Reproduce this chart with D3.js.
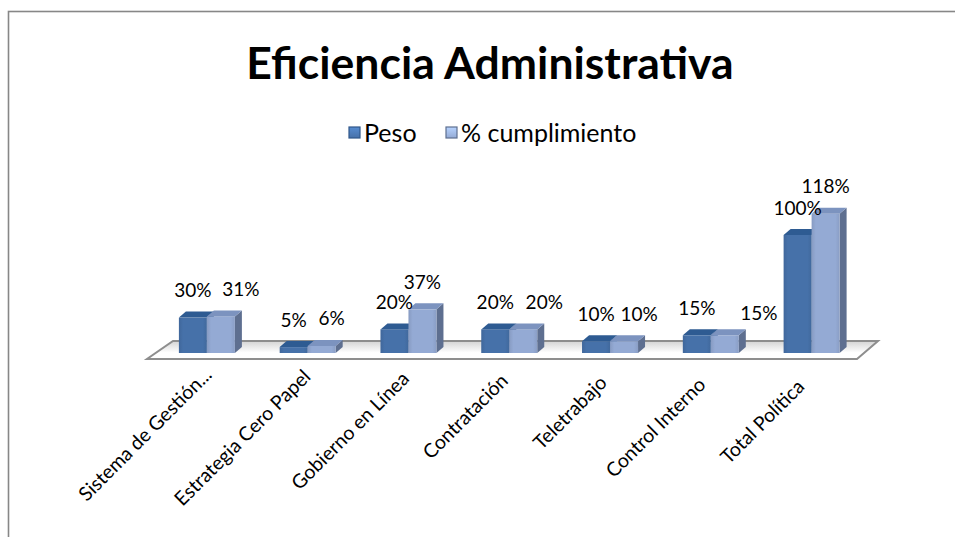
<!DOCTYPE html>
<html><head><meta charset="utf-8">
<script src="https://cdnjs.cloudflare.com/ajax/libs/d3/7.8.5/d3.min.js"></script>
<style>html,body{margin:0;padding:0;background:#fff;overflow:hidden}</style>
</head><body><svg id="c" width="955" height="537"></svg>
<script>
const title = "Eficiencia Administrativa";
const categories = ["Sistema de Gestión...", "Estrategia Cero Papel", "Gobierno en Línea", "Contratación", "Teletrabajo", "Control Interno", "Total Política"];
const seriesNames = ["Peso", "% cumplimiento"];
const peso = [0.30, 0.05, 0.20, 0.20, 0.10, 0.15, 1.00];
const cumplimiento = [0.31, 0.06, 0.37, 0.20, 0.10, 0.15, 1.18];
const pesoLabels = ["30%", "5%", "20%", "20%", "10%", "15%", "100%"];
const cumplimientoLabels = ["31%", "6%", "37%", "20%", "10%", "15%", "118%"];

// layout nudges for the second-series labels (as placed in the reference)
const label2Nudge = [[20,0],[10,0],[0,0],[21,0],[15,0],[34,5],[0,0]];

const svg = d3.select("#c");
const font = "Lato, 'Open Sans', sans-serif";
const defs = svg.append("defs");

// border
svg.append("rect").attr("x", 8.5).attr("y", 11.5).attr("width", 1000).attr("height", 600)
  .attr("fill", "#fff").attr("stroke", "#878787").attr("stroke-width", 1.6);

// title
svg.append("text").attr("x", 490).attr("y", 79).attr("text-anchor", "middle")
  .attr("font-family", font).attr("font-weight", "bold").attr("font-size", 44.5)
  .attr("fill", "#000").text(title);

const colors = [
  {front: "#4671a9", top: "#2e5b92", side: "#30578a"},
  {front: "#94aad4", top: "#7c93bf", side: "#5e6f90"}
];

colors.forEach((c, i) => {
  const g = defs.append("linearGradient").attr("id", "fg" + i).attr("x1", 0).attr("x2", 1).attr("y1", 0).attr("y2", 0);
  g.append("stop").attr("offset", 0).attr("stop-color", d3.color(c.front).darker(0.25));
  g.append("stop").attr("offset", 0.15).attr("stop-color", c.front);
  g.append("stop").attr("offset", 0.85).attr("stop-color", c.front);
  g.append("stop").attr("offset", 1).attr("stop-color", d3.color(c.front).darker(0.2));
});

// legend
const legendItems = [{x: 349, name: seriesNames[0]}, {x: 446, name: seriesNames[1]}];
legendItems.forEach((it, i) => {
  const lg = defs.append("linearGradient").attr("id", "lg" + i).attr("x1", 0).attr("x2", 0).attr("y1", 0).attr("y2", 1);
  lg.append("stop").attr("offset", 0).attr("stop-color", d3.color(colors[i].front).brighter(0.6));
  lg.append("stop").attr("offset", 1).attr("stop-color", colors[i].front);
  svg.append("rect").attr("x", it.x).attr("y", 127).attr("width", 11).attr("height", 11)
    .attr("fill", "url(#lg" + i + ")").attr("stroke", colors[i].side).attr("stroke-width", 1.2);
  svg.append("text").attr("x", it.x + 15).attr("y", 142).attr("font-family", font)
    .attr("font-size", 25).attr("fill", "#000").text(it.name);
});

// scales
const x = d3.scaleBand().domain(categories).range([156.5, 862]).paddingInner(0).paddingOuter(0);
const y = d3.scaleLinear().domain([0, 1]).range([353, 235]);
const barW = 28, dx = 7, dy = 6;

// floor
const floorShade = defs.append("linearGradient").attr("id", "floorg").attr("x1", 0).attr("x2", 0).attr("y1", 0).attr("y2", 1);
floorShade.append("stop").attr("offset", 0).attr("stop-color", "#d4d4d4");
floorShade.append("stop").attr("offset", 0.65).attr("stop-color", "#ffffff");
floorShade.append("stop").attr("offset", 1).attr("stop-color", "#ffffff");
svg.append("polygon")
  .attr("points", [[173, 341], [878, 341], [857, 359], [147, 359]].map(p => p.join(",")).join(" "))
  .attr("fill", "url(#floorg)").attr("stroke", "#8e8e8e").attr("stroke-width", 2);

const series = [peso, cumplimiento];
const g = svg.append("g");
categories.forEach((cat, ci) => {
  const c = x(cat) + x.bandwidth() / 2;
  series.forEach((vals, si) => {
    const col = colors[si];
    const x0 = c - barW + si * barW, x1 = x0 + barW;
    const yb = y(0), yt = y(vals[ci]);
    g.append("polygon").attr("points", [[x1, yt], [x1 + dx, yt - dy], [x1 + dx, yb - dy], [x1, yb]].map(p => p.join(",")).join(" "))
      .attr("fill", col.side);
    g.append("rect").attr("x", x0).attr("y", yt).attr("width", barW).attr("height", yb - yt)
      .attr("fill", "url(#fg" + si + ")");
    g.append("polygon").attr("points", [[x0, yt], [x0 + dx, yt - dy], [x1 + dx, yt - dy], [x1, yt]].map(p => p.join(",")).join(" "))
      .attr("fill", col.top);
  });
});

// data labels
const labels = [pesoLabels, cumplimientoLabels];
categories.forEach((cat, ci) => {
  const c = x(cat) + x.bandwidth() / 2;
  labels.forEach((lab, si) => {
    const bc = c - barW / 2 + si * barW;
    const nudge = si === 1 ? label2Nudge[ci] : [0, 0];
    g.append("text").attr("x", bc + nudge[0]).attr("y", y(series[si][ci]) - 27 + 6.5 + nudge[1])
      .attr("text-anchor", "middle").attr("font-family", font).attr("font-size", 19)
      .attr("fill", "#000").text(lab[ci]);
  });
});

// category labels (perspective: anchors drift slightly along the front edge)
const lx = d3.scaleLinear().domain([0, categories.length - 1]).range([x(categories[0]) + x.bandwidth() / 2 + 6, x(categories[6]) + x.bandwidth() / 2 - 6]);
const ly = d3.scaleLinear().domain([0, categories.length - 1]).range([376, 388]);
categories.forEach((cat, i) => {
  svg.append("text").attr("transform", `translate(${lx(i)},${ly(i)}) rotate(-45)`)
    .attr("text-anchor", "end").attr("font-family", font).attr("font-size", 19.5)
    .attr("fill", "#000").text(cat);
});
</script></body></html>
